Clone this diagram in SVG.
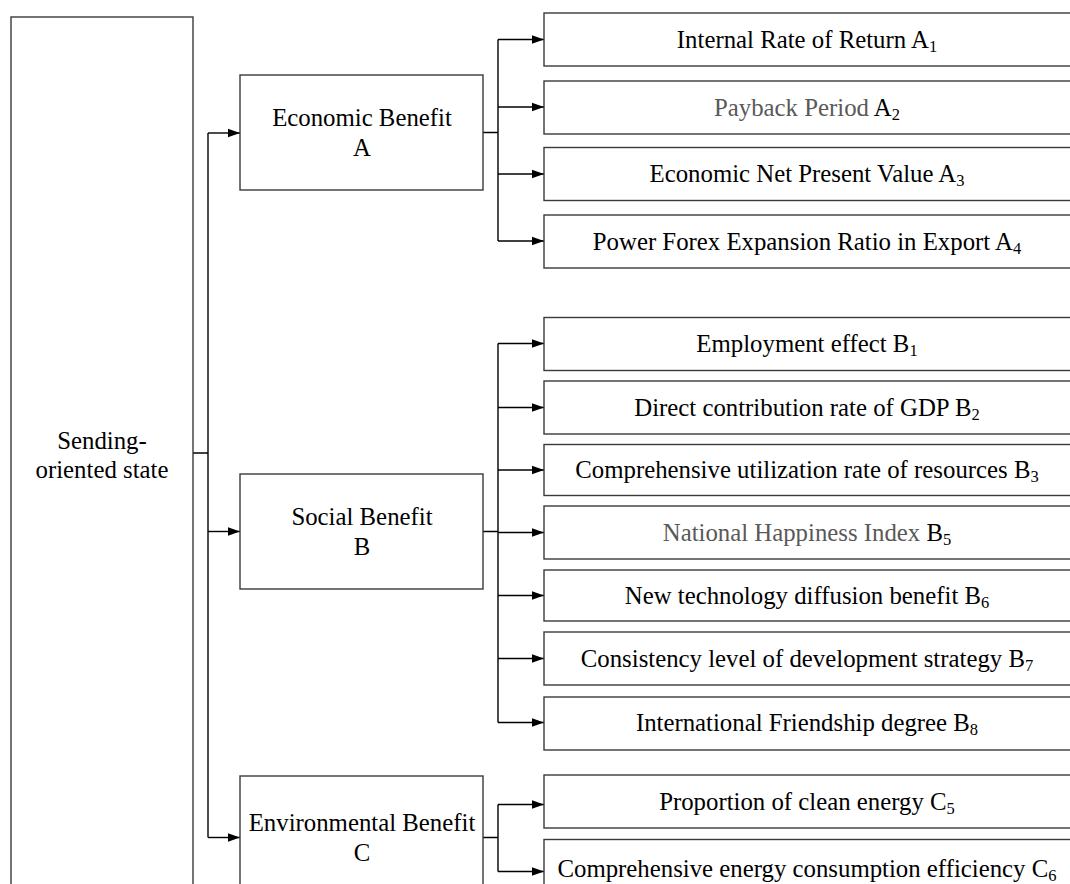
<svg xmlns="http://www.w3.org/2000/svg" width="1070" height="884" viewBox="0 0 1070 884">
<defs>
<marker id="arr" markerUnits="userSpaceOnUse" markerWidth="12" markerHeight="10" refX="12" refY="5" orient="auto">
<path d="M0,0.8 L12,5 L0,9.2 Z" fill="#000"/>
</marker>
<style>
rect{fill:#fff;stroke:#3a3a3a;stroke-width:1.4}
text{font-family:"Liberation Serif","Times New Roman",serif;font-size:24.8px;fill:#000;text-anchor:middle}
.g{fill:#595959}
.s{font-size:16.5px}
.c{fill:none;stroke:#000;stroke-width:1.4}
.a{fill:none;stroke:#000;stroke-width:1.4;marker-end:url(#arr)}
</style>
</defs>
<rect width="1070" height="884" style="fill:#fff;stroke:none"/>
<g id="connectors">
<path class="c" d="M193,453 H208 M208,133 V837.5"/>
<path class="a" d="M208,133 H240"/>
<path class="a" d="M208,531.5 H240"/>
<path class="a" d="M208,837.5 H240"/>
<path class="c" d="M483,132.5 H498 M498,39.5 V241"/>
<path class="a" d="M498,39.5 H544"/>
<path class="a" d="M498,107 H544"/>
<path class="a" d="M498,174 H544"/>
<path class="a" d="M498,241 H544"/>
<path class="c" d="M483,531.5 H498 M498,343.5 V722.5"/>
<path class="a" d="M498,343.5 H544"/>
<path class="a" d="M498,407.5 H544"/>
<path class="a" d="M498,470 H544"/>
<path class="a" d="M498,532.5 H544"/>
<path class="a" d="M498,595.5 H544"/>
<path class="a" d="M498,658.5 H544"/>
<path class="a" d="M498,722.5 H544"/>
<path class="c" d="M483,837.5 H498 M498,804.5 V871.5"/>
<path class="a" d="M498,804.5 H544"/>
<path class="a" d="M498,871.5 H544"/>
</g>
<g id="root"><rect x="11" y="17" width="182" height="900"/><text x="102" y="449">Sending-</text><text x="102" y="478">oriented state</text></g>
<g id="A"><rect x="240" y="75" width="243" height="115"/><text x="362" y="126">Economic Benefit</text><text x="362" y="156">A</text></g>
<g id="B"><rect x="240" y="474" width="243" height="115"/><text x="362" y="525">Social Benefit</text><text x="362" y="555">B</text></g>
<g id="C"><rect x="240" y="776" width="243" height="130"/><text x="362" y="831">Environmental Benefit</text><text x="362" y="861">C</text></g>
<g id="A1"><rect x="544" y="13" width="540" height="53"/><text x="807" y="48">Internal Rate of Return A<tspan class="s" dy="4">1</tspan></text></g>
<g id="A2"><rect x="544" y="81" width="540" height="53"/><text x="807" y="116"><tspan class="g">Payback Period </tspan>A<tspan class="s" dy="4">2</tspan></text></g>
<g id="A3"><rect x="544" y="147.5" width="540" height="53"/><text x="807" y="182">Economic Net Present Value A<tspan class="s" dy="4">3</tspan></text></g>
<g id="A4"><rect x="544" y="215" width="540" height="53"/><text x="807" y="250">Power Forex Expansion Ratio in Export A<tspan class="s" dy="4">4</tspan></text></g>
<g id="B1"><rect x="544" y="317.5" width="540" height="53"/><text x="807" y="352">Employment effect B<tspan class="s" dy="4">1</tspan></text></g>
<g id="B2"><rect x="544" y="381" width="540" height="53"/><text x="807" y="416">Direct contribution rate of GDP B<tspan class="s" dy="4">2</tspan></text></g>
<g id="B3"><rect x="544" y="444.5" width="540" height="51"/><text x="807" y="478">Comprehensive utilization rate of resources B<tspan class="s" dy="4">3</tspan></text></g>
<g id="B5"><rect x="544" y="506" width="540" height="53"/><text x="807" y="541"><tspan class="g">National Happiness Index </tspan>B<tspan class="s" dy="4">5</tspan></text></g>
<g id="B6"><rect x="544" y="570" width="540" height="51"/><text x="807" y="604">New technology diffusion benefit B<tspan class="s" dy="4">6</tspan></text></g>
<g id="B7"><rect x="544" y="632" width="540" height="53"/><text x="807" y="667">Consistency level of development strategy B<tspan class="s" dy="4">7</tspan></text></g>
<g id="B8"><rect x="544" y="697" width="540" height="53"/><text x="807" y="731">International Friendship degree B<tspan class="s" dy="4">8</tspan></text></g>
<g id="C5"><rect x="544" y="775" width="540" height="53"/><text x="807" y="810">Proportion of clean energy C<tspan class="s" dy="4">5</tspan></text></g>
<g id="C6"><rect x="544" y="839.5" width="540" height="60"/><text x="807" y="877">Comprehensive energy consumption efficiency C<tspan class="s" dy="4">6</tspan></text></g>
</svg>
